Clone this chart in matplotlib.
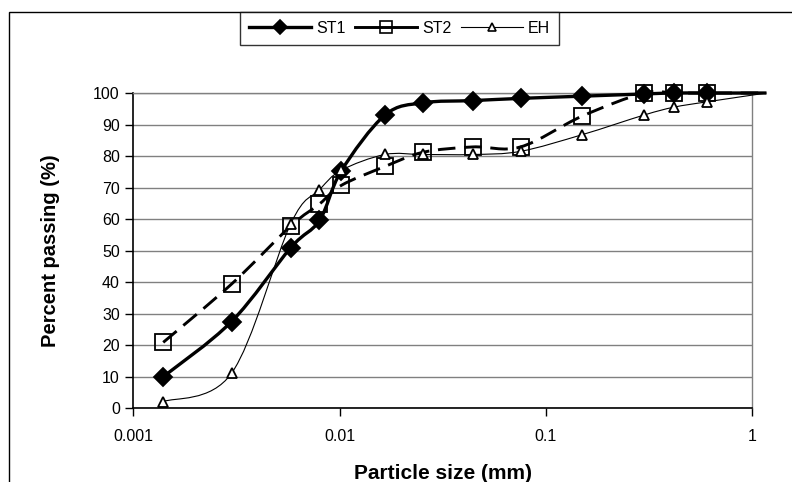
import matplotlib
matplotlib.use("Agg")
import matplotlib.pyplot as plt
import numpy as np
from matplotlib.path import Path
from matplotlib.patches import PathPatch, Rectangle
from matplotlib.lines import Line2D

plt.rcParams['font.family'] = ['Liberation Sans', 'DejaVu Sans']

# particle sizes (mm); the last point has no marker (line runs past the axis)
size = [0.0014, 0.0030, 0.0058, 0.0080, 0.0102, 0.0166, 0.0254, 0.0442,
        0.0753, 0.150, 0.298, 0.416, 0.601, 1.17]
st1 = [10.0, 27.5, 50.9, 59.6, 75.3, 93.0, 96.9, 97.6, 98.3, 99.0, 99.7, 100, 100, 100]
st2 = [20.9, 39.4, 57.8, 64.8, 70.7, 76.7, 81.2, 82.9, 82.9, 92.7, 100, 100, 100, 100]
eh = [2.1, 11.1, 58.5, 69.3, 75.5, 80.5, 80.5, 80.5, 81.5, 86.8, 93.0, 95.5, 97.2, 100]
names = ["ST1", "ST2", "EH"]
xticks = [0.001, 0.01, 0.1, 1]
xtick_labels = ["0.001", "0.01", "0.1", "1"]


def smooth_path(xs, ys):
    # excel-like smoothed line, bezier through points in (log x, y) space
    p = np.column_stack([np.log10(xs), ys])
    verts = [p[0]]
    codes = [Path.MOVETO]
    n = len(p)
    for i in range(n - 1):
        p0 = p[i - 1] if i > 0 else p[i]
        p3 = p[i + 2] if i + 2 < n else p[i + 1]
        c1 = p[i] + (p[i + 1] - p0) / 6.0
        c2 = p[i + 1] - (p3 - p[i]) / 6.0
        verts += [c1, c2, p[i + 1]]
        codes += [Path.CURVE4] * 3
    verts = np.array(verts)
    verts[:, 0] = 10 ** verts[:, 0]
    return Path(verts, codes)


fig = plt.figure(figsize=(7.92, 4.82), dpi=100)
ax = fig.add_axes([0.168, 0.153, 0.782, 0.654])

ax.set_xscale('log')
ax.set_xlim(0.001, 1)
ax.set_ylim(0, 100)

styles = [
    dict(lw=2.4, ls='-', marker='D', ms=9, mfc='black', mec='black'),
    dict(lw=2.1, ls=(0, (6, 3)), marker='s', ms=11, mfc='none', mec='black'),
    dict(lw=0.8, ls='-', marker='^', ms=7.5, mfc='white', mec='black'),
]
series = [st1, st2, eh]
handles = []
for vals, st, nm in zip(series, styles, names):
    patch = PathPatch(smooth_path(size, vals), facecolor='none', edgecolor='black',
                      lw=st['lw'], linestyle=st['ls'], clip_on=False, zorder=3)
    ax.add_patch(patch)
    ax.plot(size[:-1], vals[:-1], linestyle='none', marker=st['marker'], ms=st['ms'],
            mfc=st['mfc'], mec=st['mec'], mew=1.3, clip_on=False, zorder=4)
    handles.append(Line2D([], [], color='black', lw=st['lw'], linestyle='-',
                          marker=st['marker'], ms=st['ms'] * 0.75, mfc=st['mfc'],
                          mec=st['mec'], mew=1.2))

ax.set_yticks(np.arange(0, 101, 10))
ax.set_xticks(xticks, labels=xtick_labels)
ax.minorticks_off()
ax.yaxis.grid(True, color='#808080', lw=1)
ax.set_axisbelow(True)
ax.tick_params(axis='both', labelsize=11.5, direction='out', length=6, width=1, color='black')
ax.tick_params(axis='x', pad=9)

for s in ['left', 'bottom']:
    ax.spines[s].set_color('black')
    ax.spines[s].set_linewidth(1.2)
for s in ['top', 'right']:
    ax.spines[s].set_color('#808080')
    ax.spines[s].set_linewidth(1)

ax.set_xlabel("Particle size (mm)", fontsize=15, fontweight='bold', labelpad=14)
ax.set_ylabel("Percent passing (%)", fontsize=14.5, fontweight='bold', labelpad=24)

leg = fig.legend(handles, names, loc='upper left', bbox_to_anchor=(240 / 792, 1 - 12 / 482),
                 borderaxespad=0, ncol=3, frameon=True, fancybox=False, edgecolor='black',
                 fontsize=11.5, handlelength=3.9, handletextpad=0.3, columnspacing=0.6,
                 borderpad=0.55)
leg.get_frame().set_linewidth(1)

# chart area border (runs off the right and bottom of the picture)
fig.patches.append(Rectangle((9 / 792, -0.5), 1.5, 0.5 + 1 - 12 / 482, fill=False,
                             edgecolor='black', lw=1, transform=fig.transFigure))

fig.savefig("out.png", dpi=100)
